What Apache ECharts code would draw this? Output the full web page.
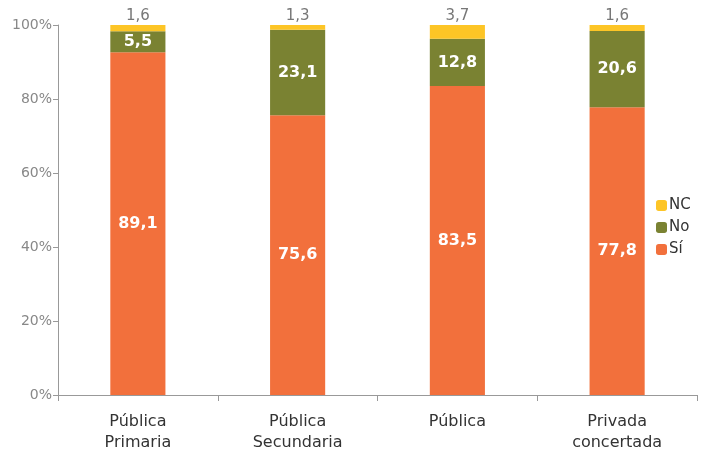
<!DOCTYPE html>
<html><head><meta charset="utf-8">
<script src="https://cdn.jsdelivr.net/npm/echarts@6/dist/echarts.min.js"></script>
<style>html,body{margin:0;padding:0;background:#fff}#c{width:717px;height:450px}</style>
</head><body><div id="c"></div>
<script>
var categories = ['Pública\nPrimaria', 'Pública\nSecundaria', 'Pública', 'Privada\nconcertada'];
var si = [89.1, 75.6, 83.5, 77.8];
var no = [5.5, 23.1, 12.8, 20.6];
var nc = [1.6, 1.3, 3.7, 1.6];
var yTicks = ['0%', '20%', '40%', '60%', '80%', '100%'];

function fmt(v){ return String(v).replace('.', ','); }
var totals = si.map(function(v,i){ return v + no[i] + nc[i]; });
function norm(arr){ return arr.map(function(v,i){ return v / totals[i] * 100; }); }

var font = 'Verdana, "DejaVu Sans", sans-serif';
var chart = echarts.init(document.getElementById('c'));
chart.setOption({
  animation: false,
  grid: { left: 58, right: 20, top: 25, bottom: 55, containLabel: false, outerBoundsMode: 'none' },
  legend: {
    orient: 'vertical', left: 651, top: 193, itemWidth: 11, itemHeight: 11, itemGap: 7,
    data: ['NC', 'No', 'Sí'],
    textStyle: { fontFamily: font, fontSize: 15, color: '#333', padding: [0,0,0,-3] }
  },
  xAxis: {
    type: 'category', data: categories,
    axisLine: { lineStyle: { color: '#999' } },
    axisTick: { show: true, length: 6, lineStyle: { color: '#999' } },
    axisLabel: { fontFamily: font, fontSize: 16, color: '#333', margin: 16, lineHeight: 21 }
  },
  yAxis: {
    type: 'value', min: 0, max: 100, interval: 20,
    splitLine: { show: false },
    axisLine: { show: true, lineStyle: { color: '#999' } },
    axisTick: { show: true, length: 5, lineStyle: { color: '#999' } },
    axisLabel: { fontFamily: font, fontSize: 14, color: '#888', margin: 6,
      formatter: function(v){ return yTicks[v/20]; } }
  },
  series: [
    { name: 'Sí', type: 'bar', stack: 't', barWidth: '34.5%', data: norm(si),
      itemStyle: { color: '#F2703C' },
      label: { show: true, position: 'inside', color: '#fff', fontWeight: 'bold', fontSize: 16, fontFamily: font,
        formatter: function(p){ return fmt(si[p.dataIndex]); } } },
    { name: 'No', type: 'bar', stack: 't', data: norm(no),
      itemStyle: { color: '#7A8232' },
      label: { show: true, position: 'inside', color: '#fff', fontWeight: 'bold', fontSize: 16, fontFamily: font,
        formatter: function(p){ return fmt(no[p.dataIndex]); } } },
    { name: 'NC', type: 'bar', stack: 't', data: norm(nc),
      itemStyle: { color: '#FDC526' },
      label: { show: true, position: 'top', distance: 1, color: '#777', fontSize: 15, fontFamily: font,
        formatter: function(p){ return fmt(nc[p.dataIndex]); } } }
  ]
});
</script></body></html>
